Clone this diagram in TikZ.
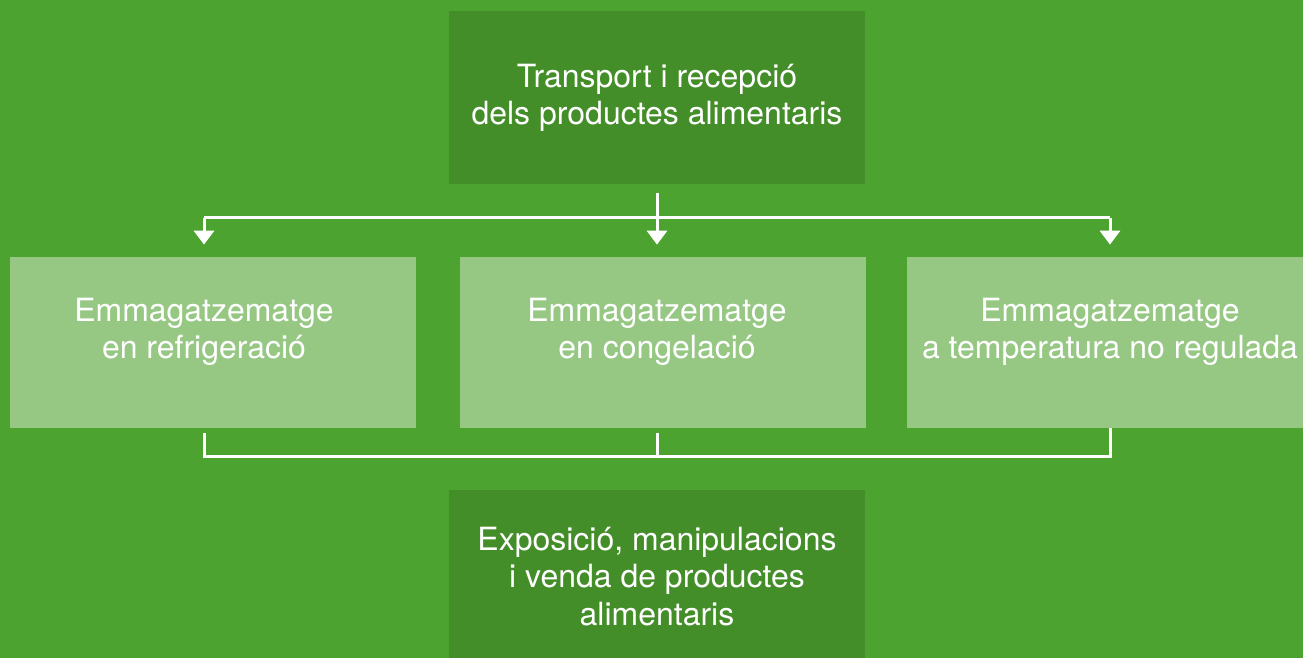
\documentclass[tikz,border=0pt]{standalone}
\usepackage{fontspec}
\setmainfont{TeX Gyre Heros}
\usepackage{xcolor}
\usepackage{tikz}
\usetikzlibrary{arrows.meta}
\usetikzlibrary{positioning}
\definecolor{bggreen}{HTML}{4CA330}
\definecolor{darkgreen}{HTML}{448E29}
\definecolor{lightgreen}{HTML}{96C884}
\newcommand{\boxfont}{\fontsize{18.2}{21.2}\selectfont}
\tikzset{darkbox/.style={fill=darkgreen, minimum width=8.32cm, minimum height=3.46cm, inner sep=0pt, text=white, align=center, font=\boxfont}}
\tikzset{lightbox/.style={fill=lightgreen, minimum width=8.12cm, minimum height=3.42cm, inner sep=0pt}}
\tikzset{boxtext/.style={text=white, align=center, font=\boxfont, inner sep=0pt}}
\tikzset{link/.style={draw=white, line width=0.06cm, line join=miter}}
\tikzset{linkarrow/.style={link, -{Triangle[width=0.4cm,length=0.28cm]}}}

\begin{document}
\begin{tikzpicture}
{
\clip (0,0) rectangle (26.06,13.16);
\fill[bggreen] (0,0) rectangle (26.06,13.16);
\node[darkbox] (transport) at (13.14,11.21) {Transport i recepció\\dels productes alimentaris};
\node[lightbox] (refrigbox) at (4.26,6.31) {};
\node[lightbox] (congelbox) at (13.26,6.31) {};
\node[lightbox] (ambientbox) at (22.2,6.31) {};
\node[boxtext] (refrig) at (4.08,6.52) {Emmagatzematge\\en refrigeració};
\node[boxtext] (congel) at (13.14,6.52) {Emmagatzematge\\en congelació};
\node[boxtext] (ambient) at (22.2,6.52) {Emmagatzematge\\a temperatura no regulada};
\node[darkbox] (venda) at (13.14,1.63) {Exposició, manipulacions\\i venda de productes\\alimentaris};
\coordinate (split) at (13.14,8.8);
\coordinate (merge) at (13.14,4.02);
% sortida del transport
\draw[linkarrow, shorten <=0.18cm, shorten >=0.24cm] (transport.south) -- (congel |- congelbox.north);
\draw[link] (refrig |- split) -- (ambient |- split);
\draw[linkarrow, shorten >=0.24cm] (refrig |- split) -- (refrig |- refrigbox.north);
\draw[linkarrow, shorten >=0.24cm] (ambient |- split) -- (ambient |- ambientbox.north);
% unio dels magatzems
\draw[link, shorten <=0.1cm] (refrig |- refrigbox.south) |- (merge) -| (ambient |- ambientbox.south);
\draw[link, shorten <=0.1cm] (congel |- congelbox.south) -- (merge);
}
\end{tikzpicture}
\end{document}
